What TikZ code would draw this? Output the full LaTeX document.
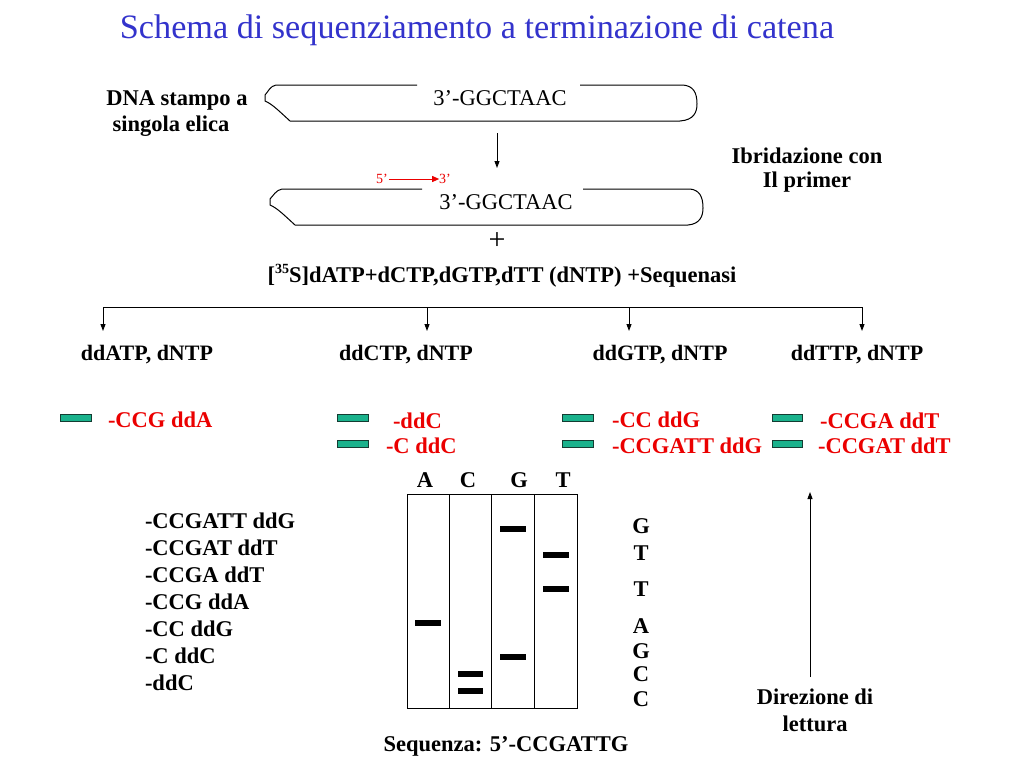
\documentclass[tikz,border=0pt]{standalone}
\usepackage{fontspec}
\setmainfont{Liberation Serif}
\usetikzlibrary{arrows.meta}
\definecolor{titleblue}{RGB}{51,51,204}
\definecolor{bandgreen}{RGB}{26,178,140}
\definecolor{bandedge}{RGB}{20,60,50}
\definecolor{txtred}{RGB}{235,0,0}
\begin{document}
\begin{tikzpicture}[x=1pt,y=-1pt,
  every node/.style={inner sep=0pt, outer sep=0pt},
  lab/.style={font=\fontsize{22.5}{26}\selectfont\bfseries},
  reg/.style={font=\fontsize{22.5}{26}\selectfont},
  red/.style={font=\fontsize{22.5}{26}\selectfont\bfseries, text=txtred, anchor=west},
  cond/.style={font=\fontsize{22}{26}\selectfont\bfseries},
  arr/.style={line width=0.9pt, -{Triangle[length=7pt,width=5pt]}},
  band/.style={draw=bandedge, fill=bandgreen, line width=0.8pt},
  gelband/.style={line width=6pt},
  strand/.style={line width=1pt}
]
\useasboundingbox (0,0) rectangle (1024,768);
\fill[white] (0,0) rectangle (1024,768);

% title
\node[font=\fontsize{34.2}{40}\selectfont, text=titleblue] (title) at (477,30) {Schema di sequenziamento a terminazione di catena};

% template 1
\node[lab] (stampo1) at (177,100) {DNA stampo a};
\node[lab] (stampo2) at (171,126) {singola elica};
\draw[strand] (417,85) -- (276,85) .. controls (270,86) and (268,92) .. (265,95)
  -- (265,101) .. controls (272,104) and (278,110) .. (290,121) -- (680,121)
  .. controls (694,120) and (697,112) .. (697,104) .. controls (697,92) and (693,86) .. (683,85) -- (580,85);
\node[reg] (seq1) at (500,98) {3’-GGCTAAC};

\coordinate (a1s) at (497,133);
\coordinate (a1e) at (497,168);
\draw[arr] (a1s) -- (a1e);

\node[lab] (ibr1) at (807,156) {Ibridazione con};
\node[lab] (ibr2) at (807,182) {Il primer};

% template 2 with primer
\node[font=\fontsize{14}{16}\selectfont, text=txtred] (p5) at (382,179) {5’};
\node[font=\fontsize{14}{16}\selectfont, text=txtred] (p3) at (445,179) {3’};
\draw[txtred, line width=1pt, -{Triangle[length=7pt,width=6pt]}] (p5.east) ++(1,0) -- (p3.west);
\draw[strand] (422,189) -- (282,189) .. controls (276,190) and (273,196) .. (270,199)
  -- (270,205) .. controls (277,208) and (283,214) .. (295,225) -- (688,225)
  .. controls (700,224) and (703,216) .. (703,208) .. controls (703,196) and (699,190) .. (690,189) -- (583,189);
\node[reg] (seq2) at (506,202) {3’-GGCTAAC};

\node[font=\fontsize{30}{34}\selectfont] (plus) at (497,241) {+};
\node[lab] (mix) at (502,276) {[\raisebox{0.4em}{\fontsize{14}{16}\selectfont 35}S]dATP+dCTP,dGTP,dTT (dNTP) +Sequenasi};

% distribution line
\coordinate (h1) at (103,307);
\coordinate (h4) at (862,307);
\draw[line width=0.9pt] (h1) -- (h4);
\coordinate (d1) at (103,331);
\coordinate (d2) at (427,331);
\coordinate (d3) at (629,331);
\coordinate (d4) at (862,331);
\coordinate (u2) at (427,307);
\coordinate (u3) at (629,307);
\draw[arr] (h1) -- (d1);
\draw[arr] (u2) -- (d2);
\draw[arr] (u3) -- (d3);
\draw[arr] (h4) -- (d4);

\node[cond] (rA) at (147,355) {ddATP, dNTP};
\node[cond] (rC) at (406,355) {ddCTP, dNTP};
\node[cond] (rG) at (660,355) {ddGTP, dNTP};
\node[cond] (rT) at (857,355) {ddTTP, dNTP};

% green bands and products
\path[band] (60,414) rectangle (91,421);
\node[red] (fA1) at (108,420) {-CCG ddA};
\path[band] (337,414) rectangle (368,421);
\path[band] (337,440) rectangle (368,447);
\node[red] (fC1) at (393,421) {-ddC};
\node[red] (fC2) at (386,446) {-C ddC};
\path[band] (562,414) rectangle (593,421);
\path[band] (562,440) rectangle (593,447);
\node[red] (fG1) at (612,420) {-CC ddG};
\node[red] (fG2) at (612,446) {-CCGATT ddG};
\path[band] (772,414) rectangle (802,421);
\path[band] (772,440) rectangle (802,447);
\node[red] (fT1) at (820,421) {-CCGA ddT};
\node[red] (fT2) at (818,446) {-CCGAT ddT};

% left list
\foreach \t [count=\i from 0] in {-CCGATT ddG,-CCGAT ddT,-CCGA ddT,-CCG ddA,-CC ddG,-C ddC,-ddC}
  \node[lab, anchor=west] (list\i) at (145,521+27*\i) {\t};

% gel
\node[lab] (lA) at (425,480) {A};
\node[lab] (lC) at (468,480) {C};
\node[lab] (lG) at (519,480) {G};
\node[lab] (lT) at (563,480) {T};
\draw[line width=1pt] (407,494) rectangle (577,708);
\draw[line width=1pt] (449,494) -- (449,708);
\draw[line width=1pt] (491.5,494) -- (491.5,708);
\draw[line width=1pt] (534.5,494) -- (534.5,708);
\draw[gelband] (415,623) -- (441,623);
\draw[gelband] (458,674) -- (483,674);
\draw[gelband] (458,691) -- (483,691);
\draw[gelband] (500,529) -- (526,529);
\draw[gelband] (500,657) -- (526,657);
\draw[gelband] (543,554.5) -- (568.5,554.5);
\draw[gelband] (543,589) -- (568.5,589);

% read letters
\node[lab] (s1) at (641,526) {G};
\node[lab] (s2) at (641,553) {T};
\node[lab] (s3) at (641,589) {T};
\node[lab] (s4) at (641,626) {A};
\node[lab] (s5) at (641,651) {G};
\node[lab] (s6) at (641,674) {C};
\node[lab] (s7) at (641,699) {C};

% reading direction
\coordinate (r0) at (810,677);
\coordinate (r1) at (810,492);
\draw[arr] (r0) -- (r1);
\node[lab] (dir1) at (815,697) {Direzione di};
\node[lab] (dir2) at (815,724) {lettura};

\node[lab] (sequ) at (506,746) {Sequenza: 5’-CCGATTG};
\end{tikzpicture}
\end{document}
